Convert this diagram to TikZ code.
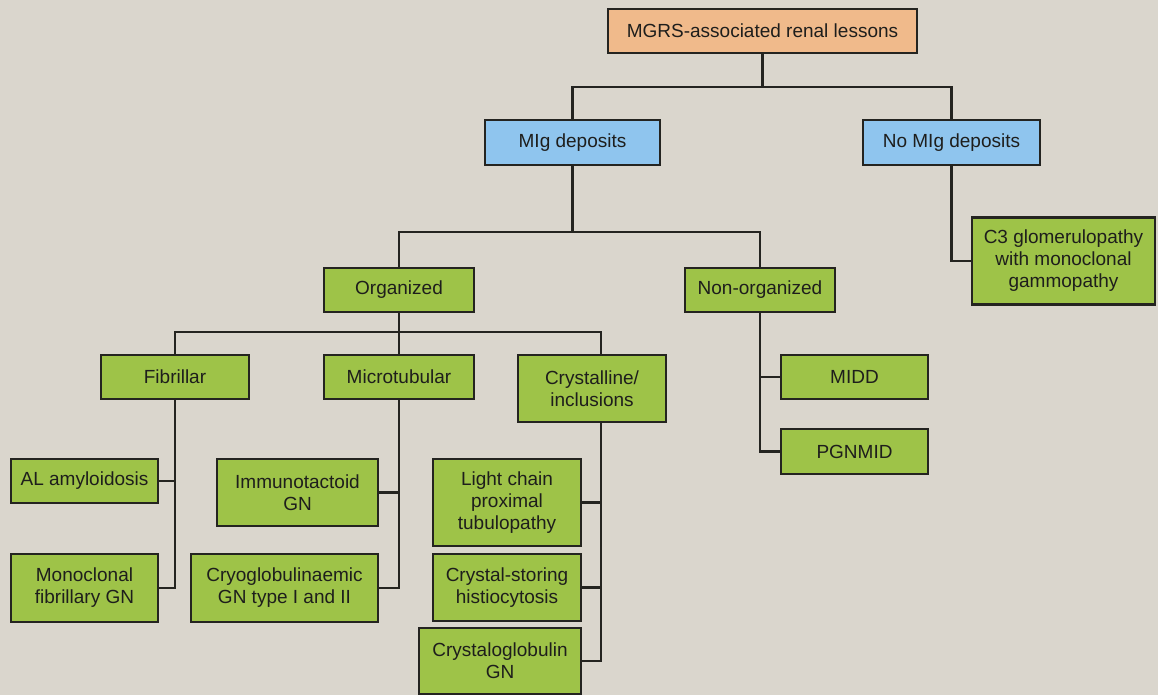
\documentclass[tikz,border=0pt]{standalone}
\usepackage{fontspec}
\setmainfont{Liberation Sans}
\begin{document}
\begin{tikzpicture}[x=1pt,y=-1pt,
  box/.style={draw=linec,line width=2.9pt,text=textc,align=center,inner sep=0pt,
    font=\fontsize{19}{22}\selectfont},
  gbox/.style={box,fill=greenc},
  bbox/.style={box,fill=bluec},
  obox/.style={box,fill=orangec},
  conn/.style={draw=linec,line width=2.8pt}]
\definecolor{bgc}{RGB}{218,214,205}
\definecolor{greenc}{RGB}{158,195,72}
\definecolor{bluec}{RGB}{143,197,238}
\definecolor{orangec}{RGB}{240,186,139}
\definecolor{linec}{RGB}{36,36,32}
\definecolor{textc}{RGB}{30,30,28}
\fill[bgc] (0,0) rectangle (1158,695);
\useasboundingbox (0,0) rectangle (1158,695);
% nodes
\node[obox,minimum width=309pt,minimum height=44pt] (top) at (762.5,31) {MGRS-associated renal lessons};
\node[bbox,minimum width=175pt,minimum height=45pt] (mig) at (572.5,142.5) {MIg deposits};
\node[bbox,minimum width=177pt,minimum height=45pt] (nomig) at (951.5,142.5) {No MIg deposits};
\node[gbox,minimum width=150pt,minimum height=44pt] (org) at (399,290) {Organized};
\node[gbox,minimum width=150pt,minimum height=44pt] (nonorg) at (760,290) {Non-organized};
\node[gbox,minimum width=183pt,minimum height=87pt] (c3) at (1063.5,261) {C3 glomerulopathy\\with monoclonal\\gammopathy};
\node[gbox,minimum width=148pt,minimum height=44pt] (fib) at (175,377) {Fibrillar};
\node[gbox,minimum width=150pt,minimum height=44pt] (micro) at (399,377) {Microtubular};
\node[gbox,minimum width=148pt,minimum height=67pt] (cryst) at (592,388.5) {Crystalline/\\inclusions};
\node[gbox,minimum width=147pt,minimum height=44pt] (midd) at (854.5,377) {MIDD};
\node[gbox,minimum width=147pt,minimum height=45pt] (pgnmid) at (854.5,451.5) {PGNMID};
\node[gbox,minimum width=147pt,minimum height=44pt] (al) at (84.5,481) {AL amyloidosis};
\node[gbox,minimum width=147pt,minimum height=68pt] (mfgn) at (84.5,588) {Monoclonal\\fibrillary GN};
\node[gbox,minimum width=161pt,minimum height=67pt] (immu) at (297.5,492.5) {Immunotactoid\\GN};
\node[gbox,minimum width=187pt,minimum height=68pt] (cryo) at (284.5,588) {Cryoglobulinaemic\\GN type I and II};
\node[gbox,minimum width=148pt,minimum height=87pt] (lc) at (507,502.5) {Light chain\\proximal\\tubulopathy};
\node[gbox,minimum width=148pt,minimum height=67pt] (cs) at (507,587.5) {Crystal-storing\\histiocytosis};
\node[gbox,minimum width=162pt,minimum height=66pt] (cg) at (500,661) {Crystaloglobulin\\GN};
% junctions
\coordinate (j1) at (762.5,87);
\coordinate (j2) at (572.5,232);
\coordinate (j3) at (399,332);
% connectors
\draw[conn] (top.south) -- (j1);
\draw[conn] (mig.north) |- (j1) -| (nomig.north);
\draw[conn] (mig.south) -- (j2);
\draw[conn] (org.north) |- (j2) -| (nonorg.north);
\draw[conn] (org.south) -- (micro.north);
\draw[conn] (fib.north) |- (j3) -| ([xshift=9pt]cryst.north);
\draw[conn] (nomig.south) |- (c3.west);
\draw[conn] (nonorg.south) |- (midd.west);
\draw[conn] (nonorg.south) |- (pgnmid.west);
\draw[conn] (fib.south) |- (al.east);
\draw[conn] (fib.south) |- (mfgn.east);
\draw[conn] (micro.south) |- (immu.east);
\draw[conn] (micro.south) |- (cryo.east);
\draw[conn] ([xshift=9pt]cryst.south) |- (lc.east);
\draw[conn] ([xshift=9pt]cryst.south) |- (cs.east);
\draw[conn] ([xshift=9pt]cryst.south) |- (cg.east);
\end{tikzpicture}
\end{document}
